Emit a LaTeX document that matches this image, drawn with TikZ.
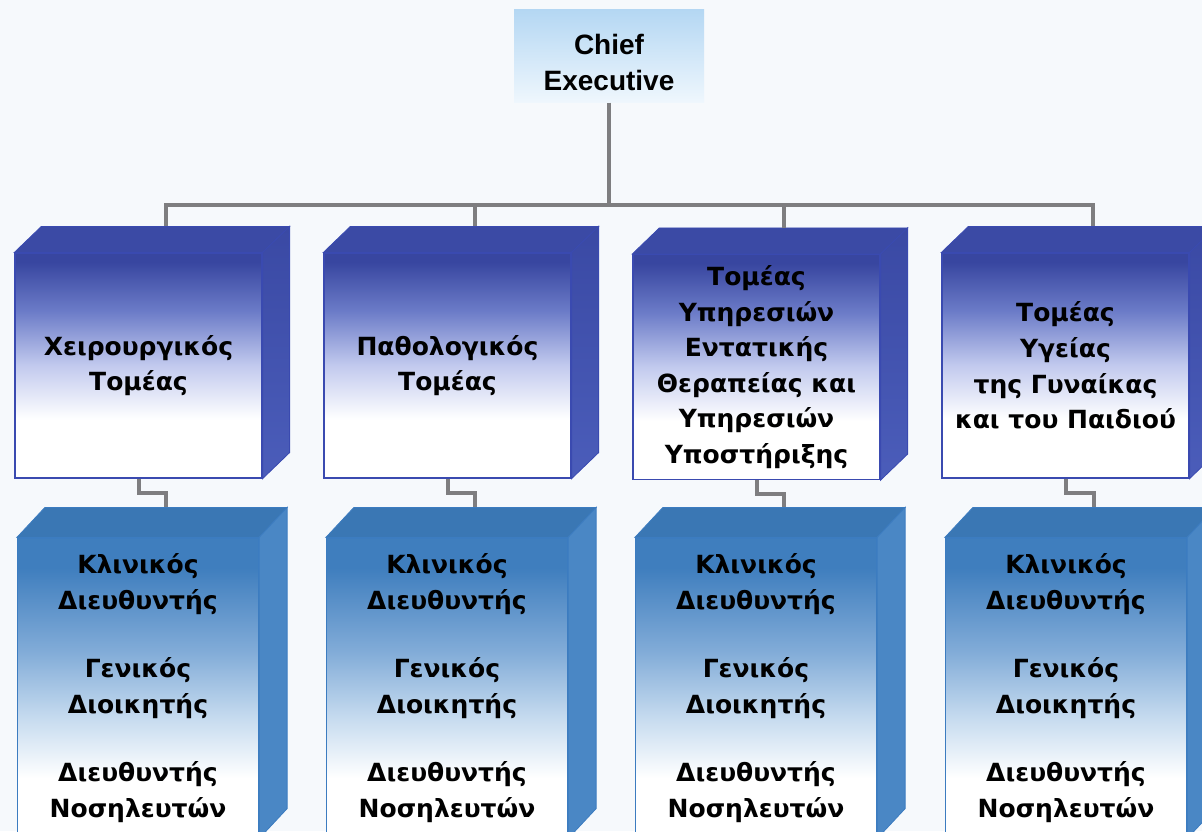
\documentclass[tikz,border=0pt]{standalone}
\usepackage{fontspec}
\setmainfont{DejaVu Sans}
\newfontfamily\headfont{Liberation Sans}
\usetikzlibrary{calc}

\definecolor{pagebg}{HTML}{F6F9FC}
\definecolor{linkgray}{HTML}{7E7E80}
\definecolor{chieftop}{HTML}{B4D7F3}
\definecolor{chiefbot}{HTML}{EFF7FD}
\definecolor{divdark}{HTML}{3846A0}
\definecolor{divmid}{HTML}{6C7CC8}
\definecolor{divlight}{HTML}{C2CAEE}
\definecolor{divline}{HTML}{3A4AB0}
\definecolor{divtopc}{HTML}{3B4AA5}
\definecolor{divsidetop}{HTML}{3A49A4}
\definecolor{divsidebot}{HTML}{4B5DBA}
\definecolor{unitdark}{HTML}{3F7EBE}
\definecolor{unitmid}{HTML}{82ACD8}
\definecolor{unitlight}{HTML}{C6DBEF}
\definecolor{unitline}{HTML}{3C7CC0}
\definecolor{unittopc}{HTML}{3A77B4}
\definecolor{unitside}{HTML}{4A87C5}

% front faces: dark at the top, fading to white
\pgfdeclareverticalshading{divfront}{100bp}{color(0bp)=(white); color(38bp)=(white);
  color(50bp)=(divlight); color(62bp)=(divmid); color(73bp)=(divdark); color(100bp)=(divdark)}
\pgfdeclareverticalshading{unitfront}{100bp}{color(0bp)=(white); color(35bp)=(white);
  color(45bp)=(unitlight); color(56bp)=(unitmid); color(70bp)=(unitdark); color(100bp)=(unitdark)}

\begin{document}
\begin{tikzpicture}[x=1pt, y=-1pt,
    chief/.style = {shape=rectangle, top color=chieftop, bottom color=chiefbot,
      minimum width=190pt, minimum height=93pt, align=center, inner sep=0pt,
      font=\headfont\bfseries\fontsize{28}{36}\selectfont},
    division/.style = {shape=rectangle, draw=divline, line width=1.2pt, shading=divfront,
      minimum width=247pt, minimum height=225pt, align=center, inner sep=0pt,
      font=\bfseries\fontsize{25}{35.6}\selectfont},
    unit/.style = {shape=rectangle, draw=unitline, line width=1.2pt, shading=unitfront,
      minimum width=241pt, minimum height=300pt, align=center, inner sep=0pt,
      font=\bfseries\fontsize{25}{36}\selectfont},
    divtop/.style = {fill=divtopc, draw=divline, line width=0.8pt},
    divside/.style = {top color=divsidetop, bottom color=divsidebot, draw=divline, line width=0.8pt},
    unittop/.style = {fill=unittopc, draw=unitline, line width=0.8pt},
    unitside/.style = {fill=unitside, draw=unitline, line width=0.8pt},
    link/.style = {draw=linkgray, line width=4pt}]

  \useasboundingbox (0,0) rectangle (1202,831);
  \clip (0,0) rectangle (1202,831);
  \fill[pagebg] (0,0) rectangle (1202,831);

  \node[chief] (chief) at (609,56)
    {\raisebox{-9pt}[\height][\depth]{\begin{tabular}{@{}c@{}}Chief\\Executive\end{tabular}}};
  \coordinate (bus) at (609,205);

  % divisions
  \node[division] (d1) at (138.5,365.5) {Χειρουργικός\\Τομέας};
  \node[division] (d2) at (447.5,365.5) {Παθολογικός\\Τομέας};
  \node[division] (d3) at (756.5,367) {Τομέας\\Υπηρεσιών\\Εντατικής\\Θεραπείας και\\Υπηρεσιών\\Υποστήριξης};
  \node[division] (d4) at (1065.5,365.5) {Τομέας\\Υγείας\\της Γυναίκας\\και του Παιδιού};

  % management of each division
  \foreach \n/\x in {1/138,2/447,3/756,4/1066}
    \node[unit] (u\n) at (\x,688) {Κλινικός\\Διευθυντής\\[32pt]Γενικός\\Διοικητής\\[32pt]Διευθυντής\\Νοσηλευτών};

  % box depth
  \foreach \n in {1,...,4} {
    \path[divtop] (d\n.north west) -- ++(27,-26) -- ($(d\n.north east)+(27,-26)$) -- (d\n.north east) -- cycle;
    \path[divside] (d\n.north east) -- ++(27,-26) -- ($(d\n.south east)+(27,-26)$) -- (d\n.south east) -- cycle;
    \coordinate (d\n-top) at ($(d\n.north)+(27,-26)$);
    \path[unittop] (u\n.north west) -- ++(28,-30) -- ($(u\n.north east)+(28,-30)$) -- (u\n.north east) -- cycle;
    \path[unitside] (u\n.north east) -- ++(28,-30) -- ($(u\n.south east)+(28,-30)$) -- (u\n.south east) -- cycle;
    \coordinate (u\n-top) at ($(u\n.north)+(28,-30)$);
  }

  % connectors
  \draw[link] (chief.south) -- (bus);
  \draw[link] (d1-top) -- (d1-top |- bus) -- (d4-top |- bus) -- (d4-top);
  \draw[link] (d2-top) -- (d2-top |- bus);
  \draw[link] (d3-top) -- (d3-top |- bus);
  \foreach \n in {1,...,4}
    \draw[link] (d\n.south) -- ++(0,14) -| (u\n-top);
\end{tikzpicture}
\end{document}
